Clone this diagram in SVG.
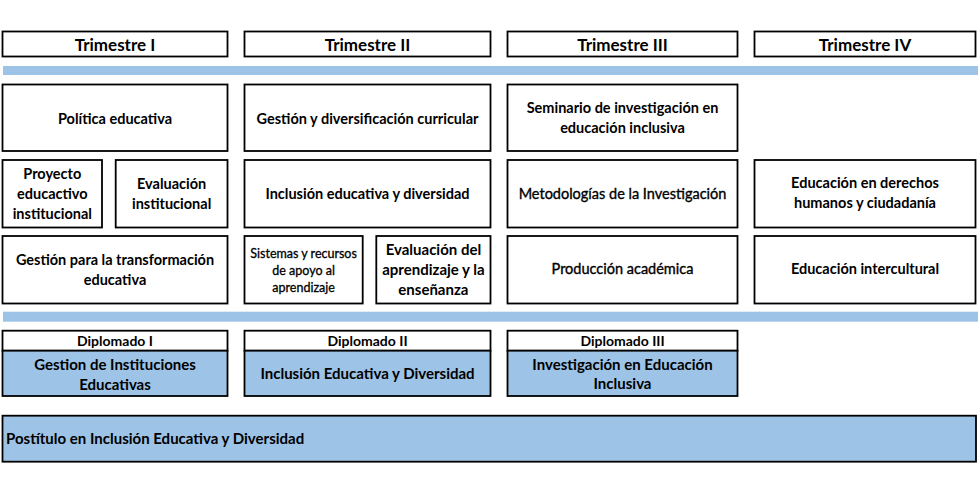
<svg xmlns="http://www.w3.org/2000/svg" width="978" height="489" viewBox="0 0 978 489">
<style>
.b{fill:#fff;stroke:#000;stroke-width:1.8}
.f{fill:#9DC3E6;stroke:#000;stroke-width:1.8}
.bar{fill:#9DC3E6}
text{font-family:Lato,"Liberation Sans",sans-serif;fill:#000;text-anchor:middle}
.h{font-size:17px;font-weight:bold}
.t{font-size:14.5px;font-weight:bold}
.r{font-size:14.5px;stroke:#000;stroke-width:0.35}
.s{font-size:12.5px;stroke:#000;stroke-width:0.3}
.e{font-size:15px;font-weight:bold}
.d{font-size:14px;font-weight:bold}
.p{font-size:15px;font-weight:bold}
</style>
<rect width="978" height="489" fill="#fff"/>
<g id="headers">
<g id="trim1"><rect class="b" x="2.5" y="31.5" width="225" height="25"/><text class="h" x="115" y="50.5">Trimestre I</text></g>
<g id="trim2"><rect class="b" x="244.5" y="31.5" width="246" height="25"/><text class="h" x="367.5" y="50.5">Trimestre II</text></g>
<g id="trim3"><rect class="b" x="507.5" y="31.5" width="230" height="25"/><text class="h" x="622.5" y="50.5">Trimestre III</text></g>
<g id="trim4"><rect class="b" x="754.5" y="31.5" width="221" height="25"/><text class="h" x="865" y="50.5">Trimestre IV</text></g>
</g>
<rect id="bar1" class="bar" x="3" y="66" width="975" height="9"/>
<g id="politica"><rect class="b" x="2.5" y="84.5" width="225" height="66.5"/><text class="t" x="115" y="123.5">Política educativa</text></g>
<g id="gestion-div"><rect class="b" x="244.5" y="84.5" width="246" height="66.5"/><text class="t" x="367.5" y="123.5">Gestión y diversificación curricular</text></g>
<g id="seminario"><rect class="b" x="507.5" y="84.5" width="230" height="66.5"/><text class="t" x="622.5" y="112.5">Seminario de investigación en</text><text class="t" x="622.5" y="133">educación inclusiva</text></g>
<g id="proyecto"><rect class="b" x="2.5" y="160" width="99.5" height="67.5"/><text class="t" x="52.3" y="179">Proyecto</text><text class="t" x="52.3" y="198.5">educactivo</text><text class="t" x="52.3" y="219">institucional</text></g>
<g id="eval-inst"><rect class="b" x="115.7" y="160" width="111.8" height="67.5"/><text class="t" x="171.6" y="188.5">Evaluación</text><text class="t" x="171.6" y="208.5">institucional</text></g>
<g id="inclusion"><rect class="b" x="244.5" y="160" width="246" height="67.5"/><text class="t" x="367.5" y="198.5">Inclusión educativa y diversidad</text></g>
<g id="metodologias"><rect class="b" x="507.5" y="160" width="230" height="67.5"/><text class="r" x="622.5" y="198.5">Metodologías de la Investigación</text></g>
<g id="derechos"><rect class="b" x="754.5" y="160" width="221" height="67.5"/><text class="t" x="865" y="188">Educación en derechos</text><text class="t" x="865" y="208">humanos y ciudadanía</text></g>
<g id="gestion-trans"><rect class="b" x="2.5" y="236" width="225" height="67.5"/><text class="t" x="115" y="265">Gestión para la transformación</text><text class="t" x="115" y="284.5">educativa</text></g>
<g id="sistemas"><rect class="b" x="244.5" y="236" width="118.2" height="67.5"/><text class="s" x="303.6" y="257.5">Sistemas y recursos</text><text class="s" x="303.6" y="275">de apoyo al</text><text class="s" x="303.6" y="292">aprendizaje</text></g>
<g id="eval-aprend"><rect class="b" x="376.3" y="236" width="114.2" height="67.5"/><text class="e" x="433.4" y="255">Evaluación del</text><text class="e" x="433.4" y="275">aprendizaje y la</text><text class="e" x="433.4" y="295">enseñanza</text></g>
<g id="produccion"><rect class="b" x="507.5" y="236" width="230" height="67.5"/><text class="r" x="622.5" y="274">Producción académica</text></g>
<g id="intercultural"><rect class="b" x="754.5" y="236" width="221" height="67.5"/><text class="t" x="865" y="274">Educación intercultural</text></g>
<rect id="bar2" class="bar" x="3" y="311.7" width="975" height="10"/>
<g id="dip1"><rect class="b" x="2.5" y="330.7" width="225" height="20"/><rect class="f" x="2.5" y="350.7" width="225" height="45.3"/><text class="d" x="115" y="345.7">Diplomado I</text><text class="p" x="115" y="370">Gestion de Instituciones</text><text class="p" x="115" y="390">Educativas</text></g>
<g id="dip2"><rect class="b" x="244.5" y="330.7" width="246" height="20"/><rect class="f" x="244.5" y="350.7" width="246" height="45.3"/><text class="d" x="367.5" y="345.7">Diplomado II</text><text class="p" x="367.5" y="379">Inclusión Educativa y Diversidad</text></g>
<g id="dip3"><rect class="b" x="507.5" y="330.7" width="230" height="20"/><rect class="f" x="507.5" y="350.7" width="230" height="45.3"/><text class="d" x="622.5" y="345.7">Diplomado III</text><text class="p" x="622.5" y="369.5">Investigación en Educación</text><text class="p" x="622.5" y="388.5">Inclusiva</text></g>
<g id="postitulo"><rect class="f" x="2.5" y="415.7" width="973.5" height="46"/><text class="p" x="6" y="443.5" style="text-anchor:start">Postítulo en Inclusión Educativa y Diversidad</text></g>
<g id="connectors"/>
</svg>
